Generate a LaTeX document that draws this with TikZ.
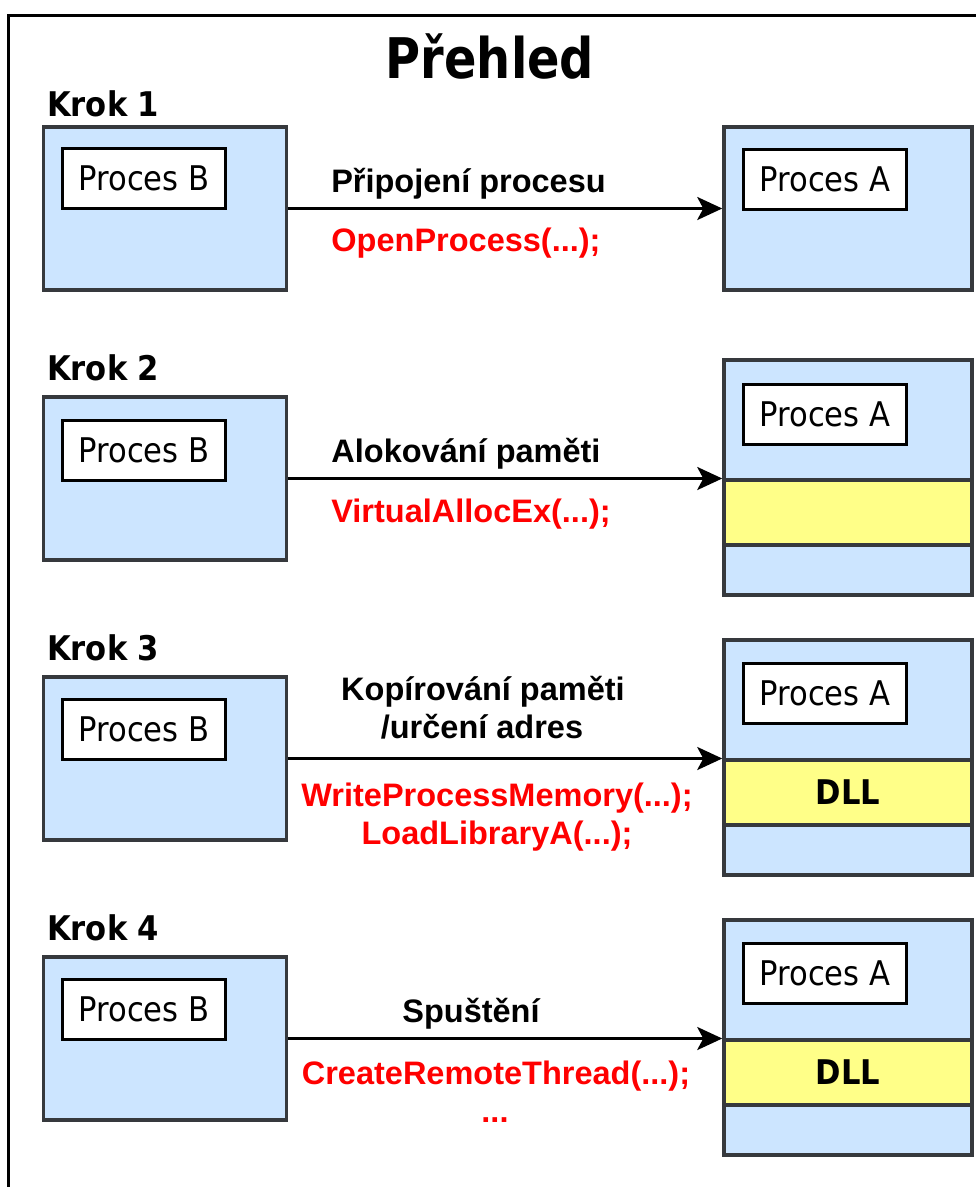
\documentclass[tikz,border=0pt]{standalone}
\usepackage{fontspec}
\setmainfont{Liberation Sans}
\newfontfamily\tahfont{DejaVu Sans Condensed}
\usetikzlibrary{arrows.meta}

\definecolor{procblue}{HTML}{CCE5FF}
\definecolor{boxline}{HTML}{36393D}
\definecolor{dllyellow}{HTML}{FFFF88}
\definecolor{apired}{HTML}{FF0000}

\tikzset{
  procbox/.style={draw=boxline, fill=procblue, line width=3.5pt, inner sep=0pt},
  dllband/.style={draw=boxline, fill=dllyellow, line width=3.5pt, inner sep=0pt,
    minimum width=248pt, minimum height=65pt,
    font=\tahfont\bfseries\fontsize{34}{40}\selectfont},
  namebox/.style={draw=black, fill=white, line width=3pt, inner sep=0pt,
    minimum width=163pt, minimum height=60pt,
    font=\tahfont\fontsize{34}{40}\selectfont},
  steplabel/.style={anchor=base west, inner sep=0pt,
    font=\tahfont\bfseries\fontsize{34}{40}\selectfont},
  actlabel/.style={inner sep=0pt, anchor=base,
    font=\bfseries\fontsize{32.5}{38}\selectfont},
  apilabel/.style={actlabel, text=apired},
  flow/.style={line width=3pt, -{Stealth[length=25pt, width=23pt, inset=6pt]}},
}

\begin{document}
\begin{tikzpicture}[x=1pt, y=-1pt]
\useasboundingbox (0,0) rectangle (976,1187);
\fill[white] (0,0) rectangle (976,1187);

% open frame around the whole overview
\draw[line width=3pt] (8,1200) -- (8,15) -- (990,15);

\node[inner sep=0pt, anchor=base] (title) at (490,78)
  {\scalebox{0.95}[1]{\tahfont\bfseries\fontsize{56}{64}\selectfont Přehled}};

% ---------- Krok 1 ----------
\node[steplabel] (k1) at (47,116) {Krok 1};
\node[procbox, minimum width=243pt, minimum height=163pt] (b1) at (165,208.5) {};
\node[namebox] (pb1) at (144,178) {Proces B};
\node[procbox, minimum width=248pt, minimum height=163pt] (a1) at (848,208.5) {};
\node[namebox] (pa1) at (825,179) {Proces A};
\draw[flow] (b1.east) -- (b1.east -| a1.west);
\node[actlabel] (t1) at (468.5,192) {Připojení procesu};
\node[apilabel] (r1) at (466,251) {OpenProcess(...);};

% ---------- Krok 2 ----------
\node[steplabel] (k2) at (47,380) {Krok 2};
\node[procbox, minimum width=243pt, minimum height=163pt] (b2) at (165,478.5) {};
\node[namebox] (pb2) at (144,450) {Proces B};
\node[procbox, minimum width=248pt, minimum height=235pt] (a2) at (848,477.5) {};
\node[namebox] (pa2) at (825,414) {Proces A};
\node[dllband] (d2) at (848,512.5) {};
\draw[flow] (b2.east) -- (b2.east -| a2.west);
\node[actlabel] (t2) at (466,462) {Alokování paměti};
\node[apilabel] (r2) at (471,522) {VirtualAllocEx(...);};

% ---------- Krok 3 ----------
\node[steplabel] (k3) at (47,660) {Krok 3};
\node[procbox, minimum width=243pt, minimum height=163pt] (b3) at (165,758.5) {};
\node[namebox] (pb3) at (144,729) {Proces B};
\node[procbox, minimum width=248pt, minimum height=235pt] (a3) at (848,757.5) {};
\node[namebox] (pa3) at (825,693.5) {Proces A};
\node[dllband] (d3) at (848,792.5) {DLL};
\draw[flow] (b3.east) -- (b3.east -| a3.west);
\node[actlabel] (t3a) at (483,700) {Kopírování paměti};
\node[actlabel] (t3b) at (482,738) {/určení adres};
\node[apilabel] (r3a) at (497,806) {WriteProcessMemory(...);};
\node[apilabel] (r3b) at (497,844) {LoadLibraryA(...);};

% ---------- Krok 4 ----------
\node[steplabel] (k4) at (47,940) {Krok 4};
\node[procbox, minimum width=243pt, minimum height=163pt] (b4) at (165,1038.5) {};
\node[namebox] (pb4) at (144,1009) {Proces B};
\node[procbox, minimum width=248pt, minimum height=235pt] (a4) at (848,1037.5) {};
\node[namebox] (pa4) at (825,973.5) {Proces A};
\node[dllband] (d4) at (848,1072.5) {DLL};
\draw[flow] (b4.east) -- (b4.east -| a4.west);
\node[actlabel] (t4) at (471,1022) {Spuštění};
\node[apilabel] (r4a) at (496,1084) {CreateRemoteThread(...);};
\node[apilabel] (r4b) at (495,1122) {...};
\end{tikzpicture}
\end{document}
